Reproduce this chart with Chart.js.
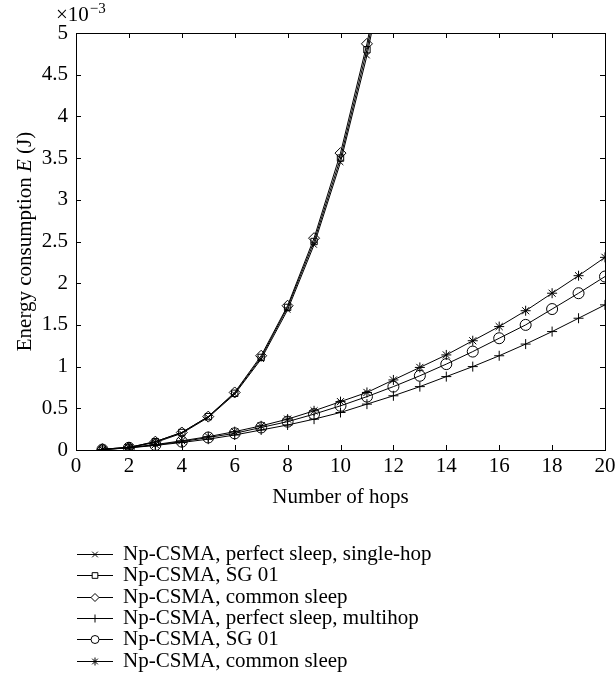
<!DOCTYPE html>
<html>
<head>
<meta charset="utf-8">
<script src="https://cdn.jsdelivr.net/npm/chart.js@4/dist/chart.umd.min.js"></script>
<style>
html,body{margin:0;padding:0;background:#fff;}
#wrap{width:615px;height:678px;position:relative;}
</style>
</head>
<body>
<div id="wrap"><canvas id="c" width="615" height="678"></canvas></div>
<script>
// Values in units of 10^-3 J
const hops = [1,2,3,4,5,6,7,8,9,10,11,12,13,14,15,16,17,18,19,20];
const xTicks = [0,2,4,6,8,10,12,14,16,18,20];
const yTicks = [0,0.5,1,1.5,2,2.5,3,3.5,4,4.5,5];
const labels = [
  "Np-CSMA, perfect sleep, single-hop",
  "Np-CSMA, SG 01",
  "Np-CSMA, common sleep",
  "Np-CSMA, perfect sleep, multihop",
  "Np-CSMA, SG 01",
  "Np-CSMA, common sleep"
];
const singlePerfect = [0.01,0.03,0.09,0.20,0.39,0.67,1.09,1.68,2.46,3.45,4.73,6.3,null,null,null,null,null,null,null,null];
const singleSG01    = [0.01,0.03,0.10,0.21,0.40,0.68,1.11,1.71,2.50,3.50,4.80,6.4,null,null,null,null,null,null,null,null];
const singleCommon  = [0.01,0.03,0.10,0.21,0.40,0.69,1.13,1.73,2.54,3.56,4.87,6.5,null,null,null,null,null,null,null,null];
const multiPerfect  = [0.005,0.025,0.055,0.09,0.13,0.18,0.24,0.30,0.37,0.45,0.55,0.65,0.76,0.88,1.00,1.13,1.27,1.42,1.58,1.74];
const multiSG01     = [0.005,0.027,0.06,0.10,0.15,0.20,0.27,0.34,0.43,0.53,0.64,0.76,0.89,1.03,1.18,1.34,1.50,1.69,1.88,2.08];
const multiCommon   = [0.005,0.028,0.065,0.11,0.16,0.22,0.29,0.37,0.47,0.58,0.69,0.84,0.99,1.14,1.31,1.48,1.67,1.88,2.09,2.31];

const seriesValues = [singlePerfect, singleSG01, singleCommon, multiPerfect, multiSG01, multiCommon];
const markerStyles = ['crossRot','rect','rectRot','cross','circle','star'];
const markerRadius = [4,4.5,5.5,5,5.5,5];

const FONT = "'Liberation Serif', 'DejaVu Serif', serif";
const FS = 21;

const datasets = seriesValues.map((vals, i) => ({
  label: labels[i],
  data: hops.map((h, j) => ({x: h, y: vals[j]})),
  borderColor: '#000',
  borderWidth: 1,
  backgroundColor: 'transparent',
  pointStyle: markerStyles[i],
  pointRadius: markerRadius[i],
  pointBorderColor: '#000',
  pointBackgroundColor: 'transparent',
  pointBorderWidth: 1,
  tension: 0,
  spanGaps: false,
  showLine: true
}));

const decorPlugin = {
  id: 'decor',
  afterDraw(chart) {
    const ctx = chart.ctx;
    const a = chart.chartArea;
    const xs = chart.scales.x, ys = chart.scales.y;
    ctx.save();
    ctx.strokeStyle = '#000';
    ctx.lineWidth = 1;
    // box
    ctx.strokeRect(Math.round(a.left)+0.5, Math.round(a.top)+0.5, Math.round(a.right-a.left), Math.round(a.bottom-a.top));
    // inward ticks
    const tl = 5;
    ctx.beginPath();
    xTicks.forEach(v => {
      const p = Math.round(xs.getPixelForValue(v)) + 0.5;
      ctx.moveTo(p, a.bottom); ctx.lineTo(p, a.bottom - tl);
      ctx.moveTo(p, a.top); ctx.lineTo(p, a.top + tl);
    });
    yTicks.forEach(v => {
      const p = Math.round(ys.getPixelForValue(v)) + 0.5;
      ctx.moveTo(a.left, p); ctx.lineTo(a.left + tl, p);
      ctx.moveTo(a.right, p); ctx.lineTo(a.right - tl, p);
    });
    ctx.stroke();

    ctx.fillStyle = '#000';
    // exponent label
    ctx.textBaseline = 'alphabetic';
    ctx.textAlign = 'left';
    ctx.font = '21px ' + FONT;
    ctx.fillText('\u00d710', 56, 21);
    const w = ctx.measureText('\u00d710').width;
    ctx.font = '15px ' + FONT;
    ctx.fillText('\u22123', 56 + w + 1, 13);

    // x-axis title
    ctx.font = FS + 'px ' + FONT;
    ctx.textAlign = 'center';
    ctx.textBaseline = 'middle';
    ctx.fillText('Number of hops', (a.left + a.right) / 2, 497);

    // y-axis title with italic E
    ctx.save();
    ctx.translate(25, (a.top + a.bottom) / 2);
    ctx.rotate(-Math.PI / 2);
    ctx.textBaseline = 'middle';
    ctx.textAlign = 'left';
    const p1 = 'Energy consumption ', p2 = 'E', p3 = ' (J)';
    ctx.font = FS + 'px ' + FONT;
    const w1 = ctx.measureText(p1).width, w3 = ctx.measureText(p3).width;
    ctx.font = 'italic ' + FS + 'px ' + FONT;
    const w2 = ctx.measureText(p2).width;
    const x0 = -(w1 + w2 + w3) / 2;
    ctx.font = FS + 'px ' + FONT;
    ctx.fillText(p1, x0, 0);
    ctx.font = 'italic ' + FS + 'px ' + FONT;
    ctx.fillText(p2, x0 + w1, 0);
    ctx.font = FS + 'px ' + FONT;
    ctx.fillText(p3, x0 + w1 + w2, 0);
    ctx.restore();

    // legend
    const ly0 = 554, dy = 21.3;
    chart.data.datasets.forEach((ds, i) => {
      const y = Math.round(ly0 + i * dy);
      ctx.strokeStyle = '#000';
      ctx.beginPath();
      ctx.moveTo(77, y + 0.5); ctx.lineTo(113, y + 0.5);
      ctx.stroke();
      ctx.fillStyle = '#fff';
      Chart.helpers.drawPoint(ctx, {
        pointStyle: ds.pointStyle, radius: 4, borderWidth: 1, rotation: 0
      }, 95, y + 0.5);
      ctx.fillStyle = '#000';
      ctx.font = FS + 'px ' + FONT;
      ctx.textBaseline = 'middle';
      ctx.textAlign = 'left';
      ctx.fillText(ds.label, 123, y);
    });
    ctx.restore();
  }
};

new Chart(document.getElementById('c'), {
  type: 'line',
  data: { datasets },
  options: {
    responsive: false,
    animation: false,
    devicePixelRatio: 1,
    layout: { padding: { top: 33, right: 10, bottom: 168, left: 0 } },
    plugins: { legend: { display: false }, tooltip: { enabled: false } },
    elements: { line: { borderJoinStyle: 'round' } },
    scales: {
      x: {
        type: 'linear', min: 0, max: 20,
        grid: { display: false, drawTicks: false },
        border: { display: false },
        afterBuildTicks: s => { s.ticks = xTicks.map(v => ({ value: v })); },
        afterFit: s => { s.height = 60; s.paddingLeft = 0; s.paddingRight = 0; },
        ticks: { color: '#000', font: { family: FONT, size: FS }, padding: 4, maxRotation: 0 },
        title: { display: false }
      },
      y: {
        type: 'linear', min: 0, max: 5,
        grid: { display: false, drawTicks: false },
        border: { display: false },
        afterBuildTicks: s => { s.ticks = yTicks.map(v => ({ value: v })); },
        afterFit: s => { s.width = 76; s.paddingTop = 0; s.paddingBottom = 0; },
        ticks: { color: '#000', font: { family: FONT, size: FS }, padding: 8,
          callback: v => String(v) }
      }
    }
  },
  plugins: [decorPlugin]
});
</script>
</body>
</html>
